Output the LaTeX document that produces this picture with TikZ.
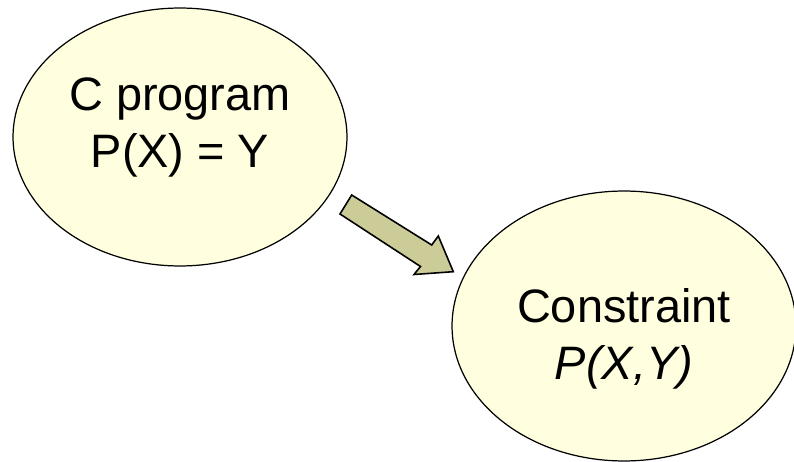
\documentclass[tikz,border=0pt]{standalone}
\usepackage{fontspec}
\setmainfont{Liberation Sans}
\usepackage{xcolor}
\usepackage{tikz}
\usetikzlibrary{shapes.geometric, calc}

\definecolor{blobfill}{RGB}{255,255,224}
\definecolor{arrowfill}{RGB}{204,204,153}

\begin{document}
\begin{tikzpicture}[
   x=0.02cm, y=-0.02cm,
   blob/.style = {draw, ellipse, fill=blobfill, line width=0.7pt, inner sep=0pt},
   blobtext/.style = {align=center, font=\fontsize{26.7pt}{32.4pt}\selectfont},
   bigarrow/.style = {draw, fill=arrowfill, line width=0.9pt, line join=miter}
   ]
  \useasboundingbox (0,0) rectangle (794,462);

  % Program ellipse
  \node[blob, minimum width=6.68cm, minimum height=5.16cm,
        label={[blobtext, yshift=0.19cm]center:C program\\P(X) = Y}] (program) at (180,137) {};

  % Constraint ellipse
  \node[blob, minimum width=6.88cm, minimum height=5.4cm,
        label={[blobtext, yshift=-0.25cm]center:Constraint\\\textit{P(X,Y)}}] (constraint) at (624,326) {};

  % Block arrow between them
  \draw[bigarrow] (351.7,195) -- (431.7,245) -- (438.3,236) -- (453.3,271.7)
     -- (414,274.5) -- (420.5,266.5) -- (340,214) -- cycle;
\end{tikzpicture}
\end{document}
